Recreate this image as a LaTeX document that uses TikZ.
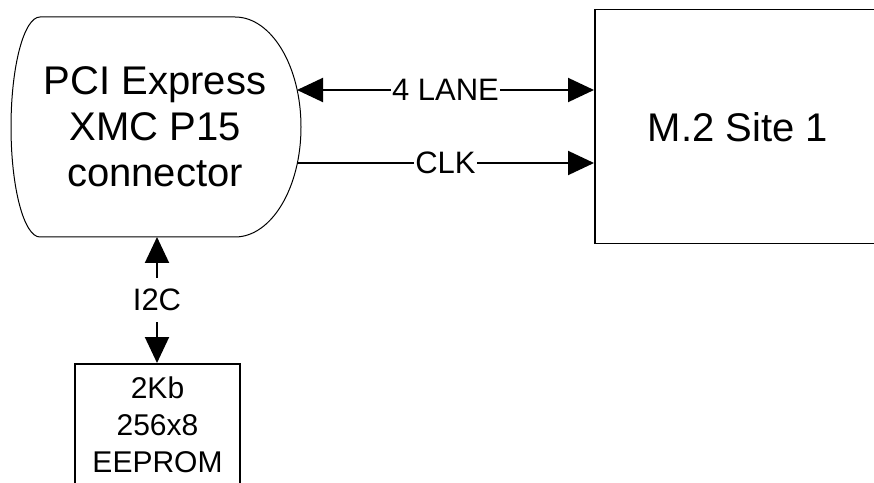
\documentclass[tikz,border=0pt]{standalone}
\usepackage{fontspec}
\setmainfont{Liberation Sans}
\usetikzlibrary{arrows.meta}
\begin{document}
\begin{tikzpicture}[x=1pt,y=1pt,
  tip/.tip={Triangle[length=26pt,width=24pt]},
  arr/.style={line width=2pt,-tip},
  biarr/.style={line width=2pt,tip-tip},
  lbl/.style={fill=white,inner xsep=1.5pt,inner ysep=1pt,font=\fontsize{31}{37}\selectfont},
  big/.style={font=\fontsize{40}{46}\selectfont,align=center},
]
\useasboundingbox (0,0) rectangle (874,482);
\clip (0,0) rectangle (874,482);
% PCI Express connector shape
\draw[line width=1pt] (40,465) -- (235,465)
  arc[start angle=90,end angle=-90,x radius=66,y radius=110]
  -- (40,245)
  arc[start angle=270,end angle=90,x radius=29,y radius=110] -- cycle;
\node[big] (pci) at (155,355) {PCI Express\\XMC P15\\connector};
% M.2 site
\node[draw,line width=1.5pt,minimum width=286pt,minimum height=234pt,anchor=north west,
  inner sep=0pt,font=\fontsize{40}{46}\selectfont] (m2) at (594,473) {M.2 Site 1};
% EEPROM
\node[draw,line width=2pt,minimum width=165pt,anchor=north,align=center,inner xsep=0pt,
  inner ysep=13pt,font=\fontsize{30}{37}\selectfont] (ee) at (157.5,119) {2Kb\\256x8\\EEPROM};
% connector end points on the PCI shape
\coordinate (p1) at (297,392);
\coordinate (p2) at (297,319);
\coordinate (pb) at (157,245);
\draw[biarr] (p1) -- node[lbl] {4 LANE} (p1 -| m2.west);
\draw[arr] (p2) -- node[lbl] {CLK} (p2 -| m2.west);
\draw[biarr] (pb) -- node[lbl,inner ysep=11pt] {I2C} (pb |- ee.north);
\end{tikzpicture}
\end{document}
